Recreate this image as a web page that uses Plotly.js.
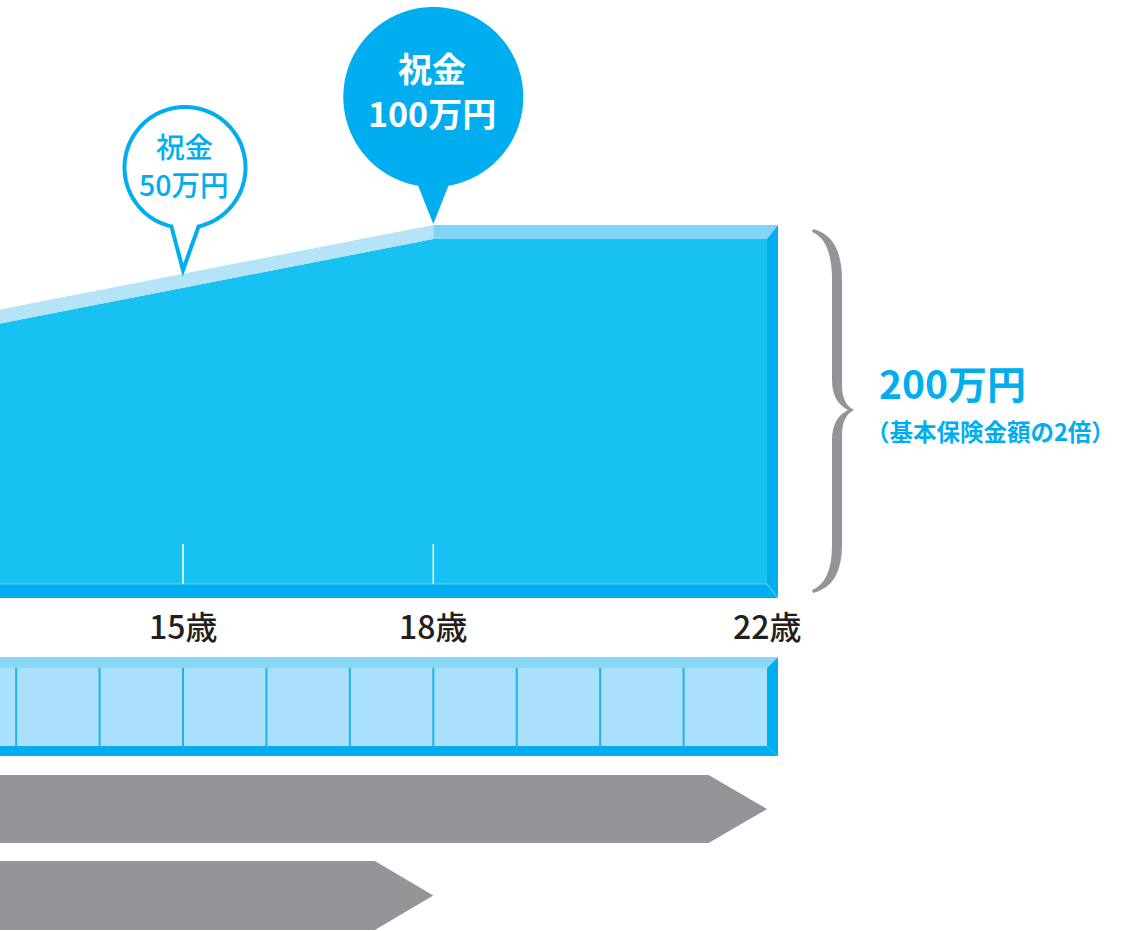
<!DOCTYPE html>
<html><head><meta charset="utf-8">
<script src="https://cdn.plot.ly/plotly-3.0.1.min.js"></script>
<style>html,body{margin:0;padding:0;background:#fff;}#chart{width:1136px;height:931px;}</style>
</head><body><div id="chart"></div>
<script>
// ---------------- data ----------------
const coverAges = [12.8, 18, 22];          // 年齢
const coverAmounts = [151, 200, 200];      // 保障額（万円）
const tickAges = [15, 18, 22];
const tickLabels = ['15歳', '18歳', '22歳'];
const tickMarkAges = [15, 18];
const giftAges = [15, 18];
const giftTitles = ['祝金', '祝金'];
const giftAmounts = ['50万円', '100万円'];
const payStartAge = 12;
const payEndAge = 22;
const payDividerAges = [13, 14, 15, 16, 17, 18, 19, 20, 21];
const periodEndAges = [22, 18];
const totalLabel = '200万円';
const totalNote = '（基本保険金額の2倍）';

// ---------------- layout constants ----------------
const W = 1136, H = 931;
const pxPerYear = 83.43;
const X0 = 15 - 183 / pxPerYear, X1 = X0 + W / pxPerYear;
const baseY = 584, pxPerMan = 1.725;
const Y0 = (baseY - H) / pxPerMan, Y1 = baseY / pxPerMan;
const dX = 11 / pxPerYear, dY = 14 / pxPerMan;
const ageToPx = a => (a - X0) * pxPerYear;

const C_FACE = '#17c1f2', C_DARK = '#00aeef', C_PALE = '#b5e3f8', C_MID = '#80d4f7';
const C_CELL = '#aae0fa', C_CELLTOP = '#8ad6f7', C_DIV = '#1fb2ec', C_GREY = '#939598';

const traces = [];
function poly(xs, ys, color, ya) {
  traces.push({type: 'scatter', mode: 'lines', x: xs, y: ys, fill: 'toself', fillcolor: color,
    line: {width: 0, color: color}, hoverinfo: 'skip', xaxis: 'x', yaxis: ya || 'y'});
}
const aFirst = coverAges[0], aLast = coverAges[coverAges.length - 1];
// main face
poly(coverAges.concat([aLast, aFirst]), coverAmounts.concat([0, 0]), C_FACE);
// top strips
for (let i = 0; i < coverAges.length - 1; i++) {
  const a0 = coverAges[i], a1 = coverAges[i + 1], c0 = coverAmounts[i], c1 = coverAmounts[i + 1];
  const ex = (i === coverAges.length - 2) ? dX : 0;
  poly([a0, a1, a1 + ex, a0], [c0, c1, c1 + dY, c0 + dY], c1 > c0 ? C_PALE : C_MID);
}
// right bevel & bottom strip
const cEnd = coverAmounts[coverAmounts.length - 1];
poly([aLast, aLast + dX, aLast + dX, aLast], [cEnd, cEnd + dY, -dY, 0], C_DARK);
poly([aFirst, aLast, aLast + dX, aFirst], [0, 0, -dY, -dY], C_DARK);
traces.push({type: 'scatter', mode: 'lines', x: [aFirst, aLast, aLast + dX], y: [0, 0, -dY],
  line: {color: 'rgba(255,255,255,0.35)', width: 1}, hoverinfo: 'skip'});
// tick marks
tickMarkAges.forEach(a => traces.push({type: 'scatter', mode: 'lines', x: [a, a], y: [0, 40 / pxPerMan],
  line: {color: '#ffffff', width: 1.5}, hoverinfo: 'skip'}));

// payment cells row (pixel rows on y2)
const rT = 657, rF = 668, rB = 746, rE = 756;
poly([payStartAge, payEndAge, payEndAge, payStartAge], [rF, rF, rB, rB], C_CELL, 'y2');
poly([payStartAge, payEndAge + dX, payEndAge, payStartAge], [rT, rT, rF, rF], C_CELLTOP, 'y2');
poly([payEndAge, payEndAge + dX, payEndAge + dX, payEndAge], [rF, rT, rE, rB], C_DARK, 'y2');
poly([payStartAge, payEndAge, payEndAge + dX, payStartAge], [rB, rB, rE, rE], C_DARK, 'y2');
payDividerAges.forEach(a => traces.push({type: 'scatter', mode: 'lines', x: [a, a], y: [rF, rB],
  line: {color: C_DIV, width: 2}, xaxis: 'x', yaxis: 'y2', hoverinfo: 'skip'}));

// period arrows
const arrowRows = [[775, 843], [861, 930]];
const headLen = 0.7;
periodEndAges.forEach((end, i) => {
  const [t, b] = arrowRows[i];
  poly([payStartAge, end - headLen, end, end - headLen, payStartAge], [t, t, (t + b) / 2, b, b], C_GREY, 'y2');
});

// ---------------- shapes ----------------
function bubblePath(cx, cy, r, tx, ty, half) {
  let d = `M${tx},${ty}`;
  const start = 90 - half, end = 90 + half - 360;
  for (let a = start; a > end; a -= 2) {
    const rad = a * Math.PI / 180;
    d += ` L${(cx + r * Math.cos(rad)).toFixed(2)},${(cy + r * Math.sin(rad)).toFixed(2)}`;
  }
  const rad = end * Math.PI / 180;
  d += ` L${(cx + r * Math.cos(rad)).toFixed(2)},${(cy + r * Math.sin(rad)).toFixed(2)} Z`;
  return d;
}
const bubbleStyle = [
  {dx: 2, cy: 167.5, r: 60.5, tipY: 270, half: 13, fill: '#ffffff', line: {color: C_DARK, width: 4},
   font: {size: 28.5, color: C_DARK, weight: 500}, y1: 145, y2: 183.5},
  {dx: 0, cy: 97, r: 90, tipY: 224, half: 9.7, fill: C_DARK, line: {width: 0},
   font: {size: 34, color: '#ffffff', weight: 'bold'}, y1: 67, y2: 112.5}
];
const shapes = giftAges.map((a, i) => {
  const s = bubbleStyle[i], px = ageToPx(a);
  return {type: 'path', xref: 'x2', yref: 'y2', path: bubblePath(px + s.dx, s.cy, s.r, px, s.tipY, s.half),
    fillcolor: s.fill, line: s.line, layer: 'above'};
});
shapes.push({type: 'path', xref: 'x2', yref: 'y2', fillcolor: C_GREY, line: {width: 0},
  path: 'M813,229 Q842,236 842,280 L842,385 Q842,404 854,410 Q842,416 842,435 L842,545 Q842,586 813,593 L812,590 Q832,582 832,545 L832,440 Q832,418 848,410 Q832,402 832,380 L832,280 Q832,240 812,232 Z'});

// ---------------- annotations ----------------
const FONT = '"Noto Sans CJK JP", "Noto Sans", sans-serif';
const annotations = [];
tickAges.forEach((a, i) => annotations.push({xref: 'x', yref: 'y2', x: a, y: 625, text: tickLabels[i],
  showarrow: false, xanchor: 'center', yanchor: 'middle', font: {family: FONT, size: 32, color: '#231f20', weight: 500}}));
giftAges.forEach((a, i) => {
  const s = bubbleStyle[i];
  const cx = ageToPx(a) + s.dx - 1;
  annotations.push({xref: 'x2', yref: 'y2', x: cx, y: s.y1, text: giftTitles[i], showarrow: false,
    xanchor: 'center', yanchor: 'middle', font: Object.assign({family: FONT}, s.font)});
  annotations.push({xref: 'x2', yref: 'y2', x: cx, y: s.y2, text: giftAmounts[i], showarrow: false,
    xanchor: 'center', yanchor: 'middle', font: Object.assign({family: FONT}, s.font)});
});
annotations.push({xref: 'x2', yref: 'y2', x: 877, y: 382, text: totalLabel, showarrow: false, xanchor: 'left', yanchor: 'middle',
  font: {family: FONT, size: 39, color: C_DARK, weight: 'bold'}});
annotations.push({xref: 'x2', yref: 'y2', x: 864, y: 431, text: totalNote, showarrow: false, xanchor: 'left', yanchor: 'middle',
  font: {family: FONT, size: 23.5, color: C_DARK, weight: 'bold'}});

const layout = {
  width: W, height: H, margin: {l: 0, r: 0, t: 0, b: 0}, showlegend: false,
  paper_bgcolor: '#ffffff', plot_bgcolor: '#ffffff',
  xaxis: {range: [X0, X1], visible: false, fixedrange: true},
  yaxis: {range: [Y0, Y1], visible: false, fixedrange: true},
  xaxis2: {range: [0, W], overlaying: 'x', visible: false, fixedrange: true},
  yaxis2: {range: [H, 0], overlaying: 'y', visible: false, fixedrange: true},
  shapes: shapes, annotations: annotations
};
Plotly.newPlot('chart', traces, layout, {displayModeBar: false, staticPlot: true});
</script></body></html>
